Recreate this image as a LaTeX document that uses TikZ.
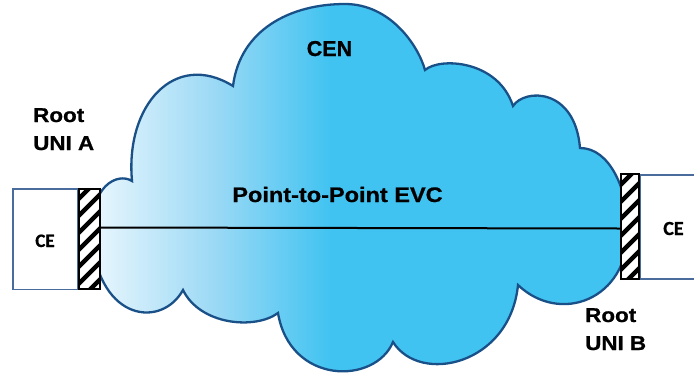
\documentclass[tikz,border=0pt]{standalone}
\usepackage{fontspec}
\usetikzlibrary{calc}
\newfontfamily\labfont[FakeStretch=1.12,FakeBold=0.8]{Liberation Sans}
\newfontfamily\cenfont[FakeBold=0.8]{Liberation Sans}
\newfontfamily\cefont[FakeBold=0.8]{Carlito}
\definecolor{cloudL}{HTML}{E8F6FD}
\definecolor{cloudM}{HTML}{9BD9F5}
\definecolor{cloudF}{HTML}{41C3F1}
\definecolor{cloudEdge}{HTML}{1A5088}
\definecolor{ceEdge}{HTML}{4A6C9C}
\pgfdeclarehorizontalshading{cloudsh}{100bp}{color(0bp)=(cloudL); color(25bp)=(cloudL); color(36.2bp)=(cloudM); color(47bp)=(cloudF); color(100bp)=(cloudF)}
\tikzset{
  hatchbox/.style={draw=black, line width=2.2pt, fill=white, inner sep=0pt,
    path picture={
      \foreach \k in {-8,...,8}{
        \draw[black, line width=4.5pt] ($(path picture bounding box.center)+(-25,\k*17+25)$) -- ++(50,-50);
      }}},
  cebox/.style={draw=ceEdge, line width=1.5pt, fill=white, inner sep=0pt},
  celine/.style={draw=ceEdge, line width=1.5pt},
  lab/.style={inner sep=0pt, anchor=base west, font=\labfont\bfseries\fontsize{20}{24}\selectfont},
  celab/.style={inner sep=0pt, anchor=base, font=\cefont\bfseries\fontsize{19}{22}\selectfont},
  evc/.style={draw=black, line width=2pt},
}
\begin{document}
\begin{tikzpicture}[x=1pt,y=-1pt]
\useasboundingbox (0,0) rectangle (694,373);
% cloud
\path[save path=\cloudP] (132,181) .. controls (125,105) and (175,50) .. (233,86)
  .. controls (240,30) and (290,4) .. (345,4)
  .. controls (390,4) and (418,45) .. (425,70)
  .. controls (440,57) and (498,60) .. (513,106)
  .. controls (525,88) and (575,88) .. (580,148)
  .. controls (610,148) and (628,190) .. (628,230)
  .. controls (628,300) and (560,325) .. (518,285)
  .. controls (510,365) and (420,385) .. (393,342)
  .. controls (375,385) and (290,385) .. (278,313)
  .. controls (255,330) and (200,325) .. (183,290)
  .. controls (162,328) and (100,322) .. (92,240)
  .. controls (88,185) and (118,172) .. (132,181) -- cycle;
\begin{scope}
  \clip[use path=\cloudP];
  \shade[shading=cloudsh] (95,0) rectangle (630,373);
\end{scope}
\draw[cloudEdge, line width=2.3pt, use path=\cloudP];
% CE boxes
\node[cebox, minimum width=64.5pt, minimum height=100.5pt] (ceA) at (45,239) {};
\draw[celine] (694,175) -- (640,175) -- (640,279) -- (694,279);
% hatched UNIs
\node[hatchbox, minimum width=20.8pt, minimum height=99.8pt] (hA) at (89.5,239) {};
\node[hatchbox, minimum width=17.8pt, minimum height=104.8pt] (hB) at (630,226.5) {};
% EVC
\draw[evc] ([yshift=11.5pt]hA.east) -- ([yshift=-2pt]hB.west);
% labels
\node[celab] (ceAt) at (45,247) {CE};
\node[celab, font=\cefont\bfseries\fontsize{20}{22}\selectfont] (ceBt) at (673.5,235) {CE};
\node[lab] (rA1) at (33,122) {Root};
\node[lab] (rA2) at (33,150) {UNI A};
\node[lab] (rB1) at (585,322) {Root};
\node[lab] (rB2) at (585,350) {UNI B};
\node[inner sep=0pt, anchor=base, font=\labfont\bfseries\fontsize{21}{24}\selectfont] (evcl) at (337.5,202) {Point-to-Point EVC};
\node[inner sep=0pt, anchor=base, font=\cenfont\bfseries\fontsize{21.5}{24}\selectfont] (cen) at (329.5,56) {CEN};
\end{tikzpicture}
\end{document}
